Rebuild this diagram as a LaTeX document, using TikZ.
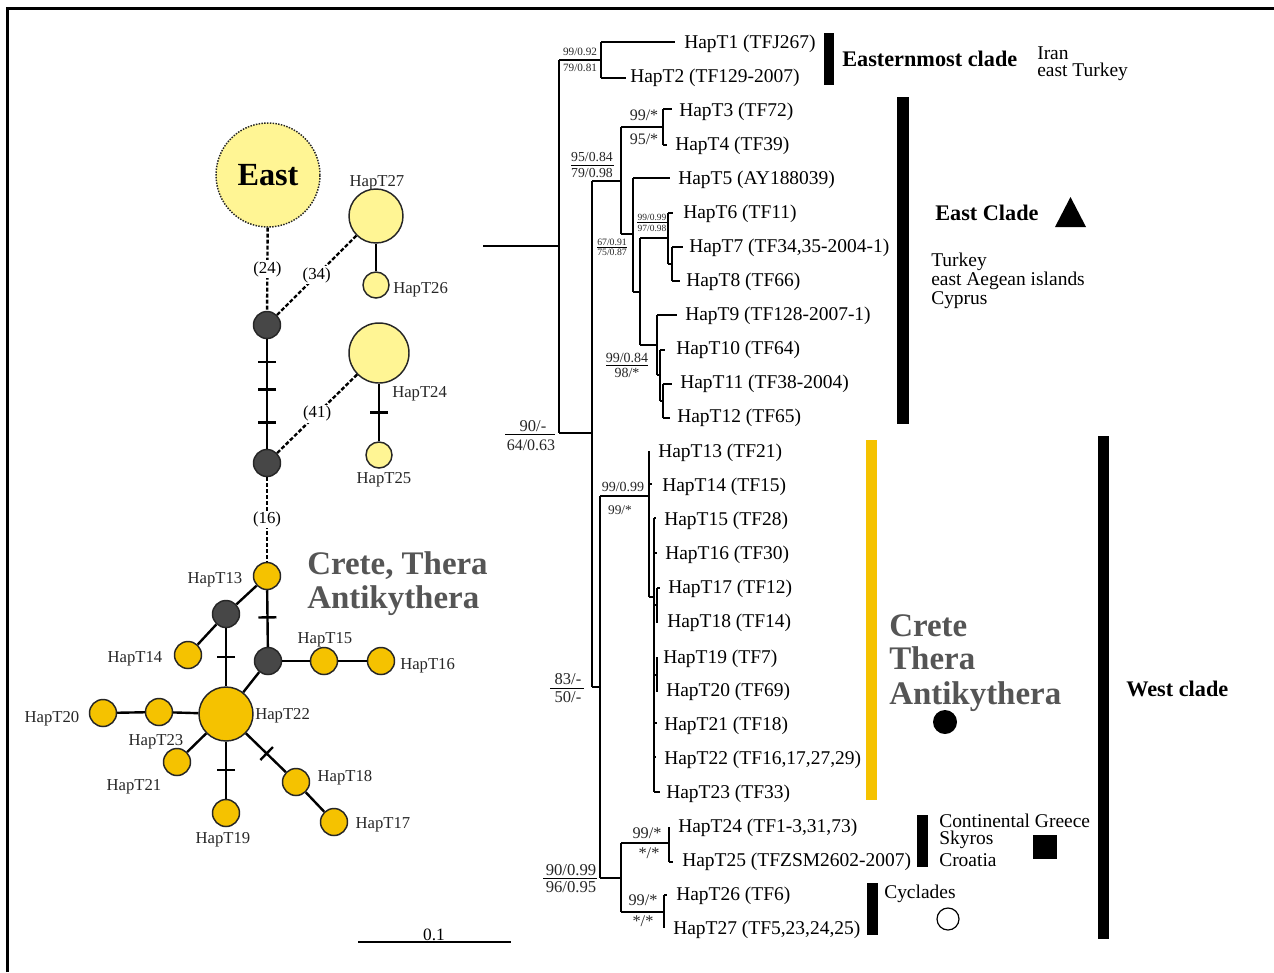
\documentclass[tikz,border=0pt]{standalone}
\usepackage{fontspec}
\setmainfont{Liberation Serif}
\usetikzlibrary{calc}
\definecolor{gold}{HTML}{F5C200}
\definecolor{pale}{HTML}{FFF594}
\definecolor{darknode}{HTML}{474747}
\definecolor{cgray}{HTML}{555555}
\newcommand{\mytick}[3]{\path (#1) -- (#2) coordinate[pos=#3] (tk);
  \draw[edge] ($(tk)!6.75pt!90:(#2)$) -- ($(tk)!6.75pt!-90:(#2)$);}
\begin{document}
\begin{tikzpicture}[x=0.75pt,y=-0.75pt,
  br/.style={line width=1.6pt},
  fbar/.style={line width=0.6pt},
  txt/.style={inner sep=0pt, yshift=-1.8pt},
  tip/.style={txt, anchor=west, font=\fontsize{14.6}{16}\selectfont},
  reg/.style={inner sep=0pt, yshift=-0.8pt, anchor=west, font=\fontsize{14.6}{16}\selectfont},
  ttl/.style={inner sep=0pt, anchor=west, font=\bfseries\fontsize{16.7}{18}\selectfont},
  big/.style={txt, anchor=west, text=cgray, text depth=0pt, font=\bfseries\fontsize{24.7}{26}\selectfont},
  hap/.style={circle, draw=black!85, line width=1.1pt, fill=gold, inner sep=0pt, minimum size=20.25pt},
  med/.style={hap, fill=darknode},
  lhap/.style={hap, fill=pale},
  nlab/.style={txt, text=black!85, font=\fontsize{12.5}{14}\selectfont},
  edge/.style={line width=1.8pt},
  dedge/.style={line width=1.8pt, dash pattern=on 3pt off 1.5pt},
  cnt/.style={fill=white, inner sep=1pt, font=\fontsize{12.6}{14}\selectfont},
  bs/.style={inner sep=0pt, text=black!85}
]
\useasboundingbox (0,0) rectangle (1274,972);
\fill[white] (0,0) rectangle (1274,972);
% frame
\draw[line width=2.25pt] (7,972) -- (7,8) -- (1274,8);

%% ---------------- haplotype network ----------------
\node[circle, draw=black!85, densely dotted, line width=1.1pt, fill=pale, minimum size=78pt, inner sep=0pt,
      font=\bfseries\fontsize{24.2}{26}\selectfont] (East) at (268,175) {East};
\node[med] (d1) at (267,325) {};
\node[med] (d2) at (267,463) {};
\node[lhap, minimum size=40.5pt] (h27) at (376,216) {};
\node[lhap, minimum size=19.5pt] (h26) at (376,285) {};
\node[lhap, minimum size=45pt] (h24) at (379,353) {};
\node[lhap, minimum size=19.5pt] (h25) at (379,455) {};
\node[hap] (h13) at (267,576) {};
\node[med] (dA) at (226,614) {};
\node[med] (dB) at (268,661) {};
\node[hap] (h14) at (188,655) {};
\node[hap] (h15) at (324,661) {};
\node[hap] (h16) at (381,661) {};
\node[hap, minimum size=40.5pt] (h22) at (226,714) {};
\node[hap] (h23) at (159,712) {};
\node[hap] (h20) at (103,713) {};
\node[hap] (h21) at (177,762) {};
\node[hap] (h19) at (226,813) {};
\node[hap] (h18) at (296,782) {};
\node[hap] (h17) at (334,822) {};

\draw[dedge] (East) -- node[cnt]{(24)} (d1);
\draw[dedge] (d1) -- node[cnt]{(34)} (h27);
\draw[edge] (h27) -- (h26);
\draw[edge] (d1) -- (d2);
\mytick{d1}{d2}{0.21}\mytick{d1}{d2}{0.46}\mytick{d1}{d2}{0.76}
\draw[dedge] (d2) -- node[cnt]{(41)} (h24);
\draw[edge] (h24) -- (h25); \mytick{h24}{h25}{0.5}
\draw[dedge] (d2) -- node[cnt]{(16)} (h13);
\draw[edge] (h13) -- (dA);
\draw[edge] (h13) -- (dB); \mytick{h13}{dB}{0.48}
\draw[edge] (dA) -- (h14);
\draw[edge] (dA) -- (h22); \mytick{dA}{h22}{0.5}
\draw[edge] (dB) -- (h15);
\draw[edge] (h15) -- (h16);
\draw[edge] (dB) -- (h22);
\draw[edge] (h22) -- (h23);
\draw[edge] (h23) -- (h20);
\draw[edge] (h22) -- (h21);
\draw[edge] (h22) -- (h19); \mytick{h22}{h19}{0.5}
\draw[edge] (h22) -- (h18); \mytick{h22}{h18}{0.52}
\draw[edge] (h18) -- (h17);

\node[nlab] (l27) at (377,180) {HapT27};
\node[nlab, anchor=west] (l26) at (393,287) {HapT26};
\node[nlab, anchor=west] (l24) at (392,391) {HapT24};
\node[nlab] (l25) at (384,477) {HapT25};
\node[nlab] (l13) at (215,577) {HapT13};
\node[nlab] (l14) at (135,656) {HapT14};
\node[nlab] (l15) at (325,637) {HapT15};
\node[nlab, anchor=west] (l16) at (400,663) {HapT16};
\node[nlab, anchor=west] (l22) at (255,713) {HapT22};
\node[nlab] (l23) at (156,739) {HapT23};
\node[nlab] (l20) at (52,716) {HapT20};
\node[nlab] (l21) at (134,784) {HapT21};
\node[nlab] (l19) at (223,837) {HapT19};
\node[nlab] (l18) at (345,775) {HapT18};
\node[nlab] (l17) at (383,822) {HapT17};
\node[big] (ct1) at (307,561) {Crete, Thera};
\node[big] (ct2) at (307,595) {Antikythera};

%% scale bar
\draw[line width=1.5pt] (358,942) -- (511,942);
\node[inner sep=0pt, anchor=base, font=\fontsize{13}{14}\selectfont] (sc) at (434,940) {0.1};

%% ---------------- tree ----------------
\draw[br] (483,246) -- (559,246);
\draw[br] (559,60) -- (559,433);
\draw[br] (559,60) -- (601,60);
\draw[br] (601,42) -- (601,78);
\draw[br] (601,42) -- (675,42);
\draw[br] (601,78) -- (626,78);
\draw[br] (559,433) -- (592,433);
\draw[br] (592,181) -- (592,687);
\draw[br] (592,181) -- (621,181);
\draw[br] (621,127) -- (621,234);
\draw[br] (621,127) -- (663,127);
\draw[br] (663,109) -- (663,145);
\draw[br] (663,109) -- (672,109);
\draw[br] (663,145) -- (667,145);
\draw[br] (621,234) -- (633,234);
\draw[br] (633,178) -- (633,292);
\draw[br] (633,178) -- (670,178);
\draw[br] (633,292) -- (640,292);
\draw[br] (640,238) -- (640,345);
\draw[br] (640,238) -- (668,238);
\draw[br] (668,213) -- (668,264);
\draw[br] (668,213) -- (673,213);
\draw[br] (668,264) -- (672,264);
\draw[br] (672,247) -- (672,281);
\draw[br] (672,247) -- (683,247);
\draw[br] (672,281) -- (680,281);
\draw[br] (640,345) -- (657,345);
\draw[br] (657,315) -- (657,375);
\draw[br] (657,315) -- (677,315);
\draw[br] (657,375) -- (660,375);
\draw[br] (660,350) -- (660,401);
\draw[br] (660,350) -- (665,350);
\draw[br] (660,401) -- (663,401);
\draw[br] (663,384) -- (663,418);
\draw[br] (663,384) -- (672,384);
\draw[br] (663,418) -- (670,418);
% west clade
\draw[br] (592,687) -- (600,687);
\draw[br] (600,496) -- (600,878);
\draw[br] (600,496) -- (649,496);
\draw[br] (649,451) -- (649,597);
\draw[br] (649,484) -- (652,484);
\draw[br] (649,597) -- (654,597);
\draw[br] (654,518) -- (654,792);
\draw[br] (654,518) -- (656,518);
\draw[br] (654,553) -- (657,553);
\draw[br] (654,605) -- (657,605);
\draw[br] (657,588) -- (657,623);
\draw[br] (657,588) -- (660,588);
\draw[br] (654,675) -- (657,675);
\draw[br] (657,657) -- (657,692);
\draw[br] (654,723) -- (657,723);
\draw[br] (654,757) -- (656,757);
\draw[br] (654,792) -- (660,792);
\draw[br] (600,878) -- (621,878);
\draw[br] (621,843) -- (621,912);
\draw[br] (621,843) -- (669,843);
\draw[br] (669,827) -- (669,862);
\draw[br] (669,862) -- (673,862);
\draw[br] (621,912) -- (664,912);
\draw[br] (664,895) -- (664,928);
\draw[br] (664,895) -- (667,895);

% tip labels
\node[tip] (t1) at (684,41) {HapT1 (TFJ267)};
\node[tip] (t2) at (630,75) {HapT2 (TF129-2007)};
\node[tip] (t3) at (679,109) {HapT3 (TF72)};
\node[tip] (t4) at (675,143) {HapT4 (TF39)};
\node[tip] (t5) at (678,177) {HapT5 (AY188039)};
\node[tip] (t6) at (683,211) {HapT6 (TF11)};
\node[tip] (t7) at (689,245) {HapT7 (TF34,35-2004-1)};
\node[tip] (t8) at (686,279) {HapT8 (TF66)};
\node[tip] (t9) at (685,313) {HapT9 (TF128-2007-1)};
\node[tip] (t10) at (676,347) {HapT10 (TF64)};
\node[tip] (t11) at (680,381) {HapT11 (TF38-2004)};
\node[tip] (t12) at (677,415) {HapT12 (TF65)};
\node[tip] (t13) at (658,450) {HapT13 (TF21)};
\node[tip] (t14) at (662,484) {HapT14 (TF15)};
\node[tip] (t15) at (664,518) {HapT15 (TF28)};
\node[tip] (t16) at (665,552) {HapT16 (TF30)};
\node[tip] (t17) at (668,586) {HapT17 (TF12)};
\node[tip] (t18) at (667,620) {HapT18 (TF14)};
\node[tip] (t19) at (663,656) {HapT19 (TF7)};
\node[tip] (t20) at (666,689) {HapT20 (TF69)};
\node[tip] (t21) at (664,723) {HapT21 (TF18)};
\node[tip] (t22) at (664,757) {HapT22 (TF16,17,27,29)};
\node[tip] (t23) at (666,791) {HapT23 (TF33)};
\node[tip] (t24) at (678,825) {HapT24 (TF1-3,31,73)};
\node[tip] (t25) at (682,859) {HapT25 (TFZSM2602-2007)};
\node[tip] (t26) at (676,893) {HapT26 (TF6)};
\node[tip] (t27) at (673,927) {HapT27 (TF5,23,24,25)};

% support values
\node[bs, font=\fontsize{8.4}{9}\selectfont] (s1a) at (580,52) {99/0.92};
\node[bs, font=\fontsize{8.4}{9}\selectfont] (s1b) at (580,68) {79/0.81};
\node[bs, font=\fontsize{12}{13}\selectfont] (s2a) at (644,115) {99/*};
\node[bs, font=\fontsize{12}{13}\selectfont] (s2b) at (644,139) {95/*};
\node[bs, font=\fontsize{10.3}{11}\selectfont] (s3a) at (592,157) {95/0.84};
\node[bs, font=\fontsize{10.3}{11}\selectfont] (s3b) at (592,173) {79/0.98};
\draw[fbar] (571,165) -- (614,165);
\node[bs, font=\fontsize{7.1}{8}\selectfont] (s4a) at (652,217) {99/0.99};
\node[bs, font=\fontsize{7.1}{8}\selectfont] (s4b) at (652,228) {97/0.98};
\draw[fbar] (637,222) -- (667,222);
\node[bs, font=\fontsize{7.3}{8}\selectfont] (s5a) at (612,242) {67/0.91};
\node[bs, font=\fontsize{7.3}{8}\selectfont] (s5b) at (612,252) {75/0.87};
\draw[fbar] (597,247) -- (627,247);
\node[bs, font=\fontsize{10.5}{11}\selectfont] (s6a) at (627,358) {99/0.84};
\node[bs, font=\fontsize{10.5}{11}\selectfont] (s6b) at (627,373) {98/*};
\draw[fbar] (606,365) -- (648,365);
\node[bs, font=\fontsize{12.4}{13}\selectfont] (s7a) at (533,426) {90/-};
\node[bs, font=\fontsize{12}{13}\selectfont] (s7b) at (531,445) {64/0.63};
\draw[fbar] (505,434) -- (555,434);
\node[bs, font=\fontsize{10.5}{11}\selectfont] (s8a) at (623,487) {99/0.99};
\node[bs, font=\fontsize{10}{11}\selectfont] (s8b) at (620,510) {99/*};
\node[bs, font=\fontsize{12.4}{13}\selectfont] (s9a) at (568,679) {83/-};
\node[bs, font=\fontsize{12.4}{13}\selectfont] (s9b) at (568,697) {50/-};
\draw[fbar] (550,688) -- (584,688);
\node[bs, font=\fontsize{12.2}{13}\selectfont] (s10a) at (647,833) {99/*};
\node[bs, font=\fontsize{12.2}{13}\selectfont] (s10b) at (649,853) {*/*};
\node[bs, font=\fontsize{12.5}{13}\selectfont] (s11a) at (571,870) {90/0.99};
\node[bs, font=\fontsize{12.5}{13}\selectfont] (s11b) at (571,887) {96/0.95};
\draw[fbar] (543,878) -- (597,878);
\node[bs, font=\fontsize{12.2}{13}\selectfont] (s12a) at (643,900) {99/*};
\node[bs, font=\fontsize{12.2}{13}\selectfont] (s12b) at (643,921) {*/*};

%% ---------------- clade bars and labels ----------------
\fill (824,33) rectangle (834,85);
\fill (897,97) rectangle (909,424);
\fill[gold] (866,440) rectangle (877,800);
\fill (917,815) rectangle (928,867);
\fill (867,883) rectangle (878,935);
\fill (1098,436) rectangle (1109,939);

\node[ttl] (c1) at (842,59) {Easternmost clade};
\node[reg] (r1a) at (1037,52) {Iran};
\node[reg] (r1b) at (1037,71) {east Turkey};
\node[ttl] (c2) at (935,213) {East Clade};
\fill (1055,227) -- (1070.5,197) -- (1086,227) -- cycle;
\node[reg] (r2a) at (931,261) {Turkey};
\node[reg] (r2b) at (931,280) {east Aegean islands};
\node[reg] (r2c) at (931,299) {Cyprus};
\node[big] (c3a) at (889,623) {Crete};
\node[big] (c3b) at (889,656) {Thera};
\node[big] (c3c) at (889,691) {Antikythera};
\fill (945,722) circle[radius=9pt];
\node[ttl] (c4) at (1126,689) {West clade};
\node[reg] (r4a) at (939,820) {Continental Greece};
\node[reg] (r4b) at (939,839) {Skyros};
\node[reg] (r4c) at (939,859) {Croatia};
\fill (1033,835) rectangle (1057,859);
\node[reg] (r5) at (884,893) {Cyclades};
\draw[line width=0.9pt] (948,919) circle[radius=8.25pt];
\end{tikzpicture}
\end{document}
